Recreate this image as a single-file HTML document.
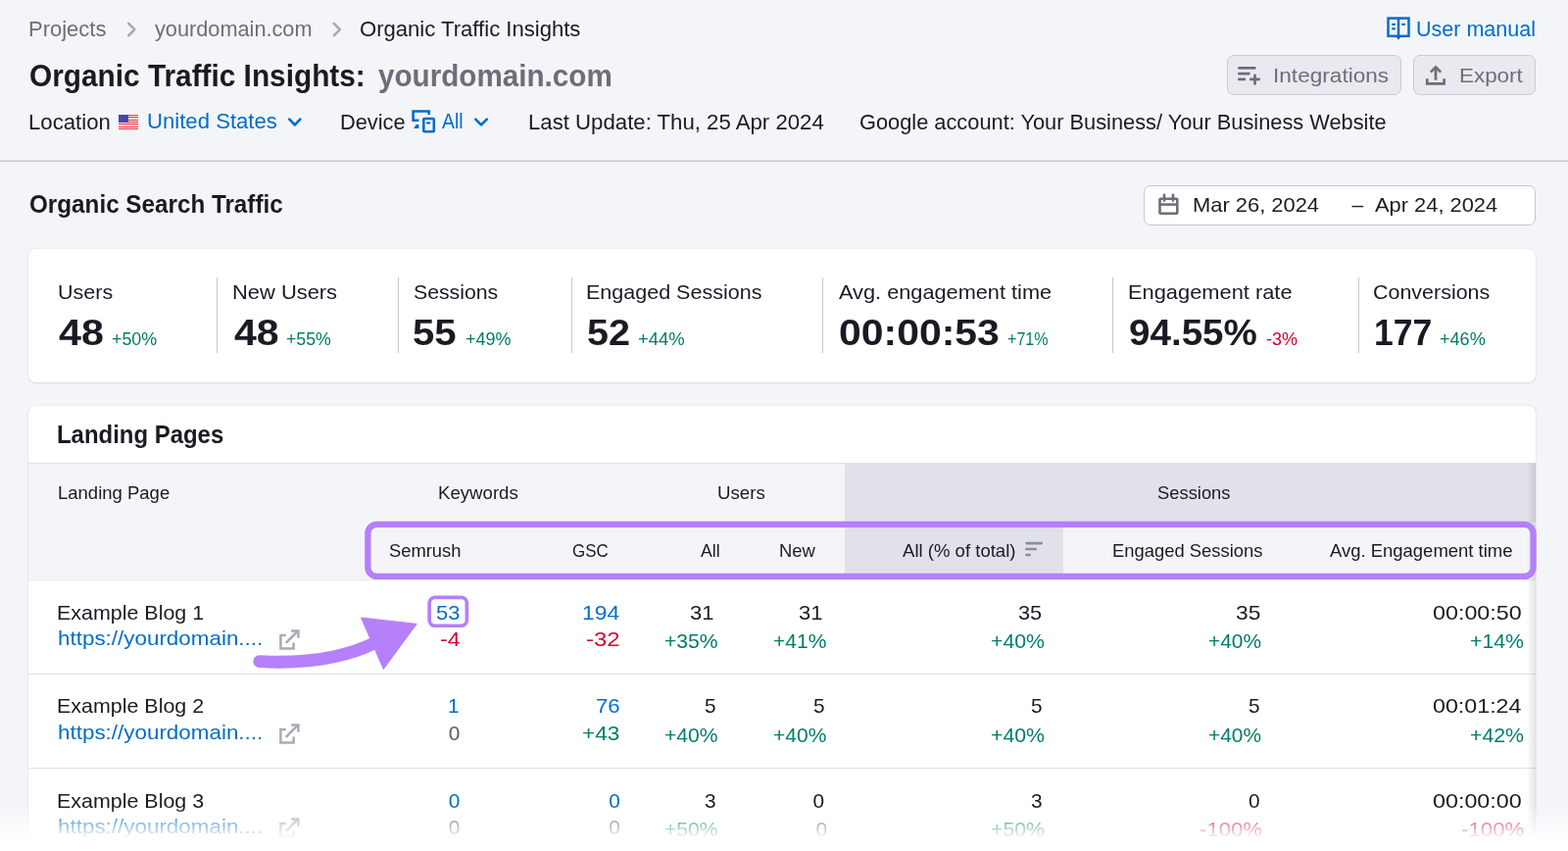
<!DOCTYPE html>
<html lang="en">
<head>
<meta charset="utf-8">
<title>Organic Traffic Insights: yourdomain.com</title>
<style>
html,body{margin:0;padding:0}
body{width:1600px;height:868px;overflow:hidden;position:relative;background:#f4f5f9;font-family:"Liberation Sans",sans-serif;color:#191b23}
.a{position:absolute}
.t{position:absolute;white-space:pre;line-height:1em;display:block;transform-origin:0 0}
.btn{position:absolute;box-sizing:border-box;background:#e9eaef;border:1px solid #c9cbd3;border-radius:7px}
.card{position:absolute;background:#fff;border-radius:7px;box-shadow:0 0 1px rgba(25,27,35,.24),0 1px 2px rgba(25,27,35,.10)}
.vd{position:absolute;width:1px;top:283px;height:77px;background:#c4c7cf}
.hl{position:absolute;left:29px;width:1538px;height:1px;background:#e0e1e9}
svg{position:absolute;overflow:visible}
</style>
</head>
<body>
<!-- header divider -->
<div class="a" style="left:0;top:163px;width:1600px;height:2px;background:linear-gradient(to bottom,rgba(194,196,204,.4) 0,rgba(194,196,204,.4) 1px,#c2c4cc 1px,#c2c4cc 2px)"></div>

<!-- buttons -->
<div class="btn" style="left:1252px;top:56px;width:178px;height:41px"></div>
<div class="btn" style="left:1442px;top:56px;width:125px;height:41px"></div>

<!-- date picker -->
<div class="a" style="left:1167px;top:189px;width:400px;height:41px;box-sizing:border-box;background:#fff;border:1px solid #c4c7cf;border-radius:7px"></div>

<!-- stats card -->
<div class="card" style="left:29px;top:254px;width:1538px;height:136px"></div>
<div class="vd" style="left:221px"></div>
<div class="vd" style="left:406px"></div>
<div class="vd" style="left:583px"></div>
<div class="vd" style="left:839px"></div>
<div class="vd" style="left:1135px"></div>
<div class="vd" style="left:1386px"></div>

<!-- landing pages card -->
<div class="card" style="left:29px;top:414px;width:1538px;height:500px"></div>
<div class="a" style="left:29px;top:472px;width:1538px;height:120px;background:#f4f5f9"></div>
<div class="a" style="left:862px;top:472px;width:705px;height:61px;background:#e0e1e9"></div>
<div class="a" style="left:862px;top:533px;width:223px;height:59px;background:#e0e1e9"></div>
<div class="hl" style="top:472px"></div>
<div class="hl" style="top:591px;background:#e9eaef"></div>
<div class="hl" style="top:687px"></div>
<div class="hl" style="top:783px"></div>
<!-- right scroll shadow -->
<div class="a" style="left:1558px;top:472px;width:9px;height:400px;background:linear-gradient(to right,rgba(25,27,35,0),rgba(25,27,35,.12))"></div>

<!-- purple highlights -->
<svg style="left:360px;top:520px" width="1240" height="130" viewBox="360 520 1240 130" fill="none" stroke="#b580fa">
  <rect x="375.35" y="534.85" width="1189.2" height="53" rx="9.2" stroke-width="6.3"/>
  <rect x="438.15" y="609.35" width="38.2" height="28.9" rx="5.7" stroke-width="3.7"/>
</svg>

<!-- breadcrumb chevrons -->
<svg style="left:0;top:0" width="1600" height="160" viewBox="0 0 1600 160" fill="none" stroke-linecap="round" stroke-linejoin="round">
  <path d="M131.2 24 L137.4 30.1 L131.2 36.2" stroke="#a9abb6" stroke-width="2.6"/>
  <path d="M340.7 24 L346.9 30.1 L340.7 36.2" stroke="#a9abb6" stroke-width="2.6"/>
  <!-- dropdown chevrons -->
  <path d="M295.3 121.6 L300.8 127.4 L306.3 121.6" stroke="#006dca" stroke-width="2.7"/>
  <path d="M485.3 121.6 L491 127.4 L496.8 121.6" stroke="#006dca" stroke-width="2.7"/>
  <!-- device icon -->
  <g stroke="#006dca" stroke-width="2.6" stroke-linejoin="miter" stroke-linecap="butt">
    <path d="M437.7 117 V113.5 H421.6 V122.8 H427.4"/>
    <rect x="432.3" y="121" width="10.5" height="13.3" rx="0.8"/>
    <path d="M435 125.4 H439.2" stroke-width="2.1"/>
  </g>
  <path d="M422.2 131 L424.6 126.9 H427.4 V131 Z" fill="#006dca"/>
  <!-- user manual book -->
  <g stroke="#006dca" stroke-width="2.5" stroke-linejoin="miter" stroke-linecap="butt">
    <rect x="1416.5" y="18.6" width="21" height="18.2"/>
    <path d="M1427 18.6 V38.5"/>
    <path d="M1421.1 24.8 H1423 M1421.1 29.3 H1423 M1431.1 24.8 H1433" stroke-width="2.2" stroke-linecap="round"/>
  </g>
  <path d="M1424.6 37.6 H1429.4 L1427 40.8 Z" fill="#006dca"/>
  <!-- integrations icon -->
  <g stroke="#6c6e79" stroke-width="2.7">
    <path d="M1264.3 69.3 H1280.4 M1264.3 75.1 H1274.5 M1264.3 80.9 H1269.9 M1276.3 80.9 H1284.7 M1280.5 76.8 V85.4"/>
  </g>
  <!-- export icon -->
  <g stroke="#6c6e79" stroke-width="2.7" stroke-linecap="butt" stroke-linejoin="miter">
    <path d="M1456.3 80.2 V85.4 H1473.6 V80.2"/>
    <path d="M1465 81.7 V69"/>
    <path d="M1459.8 73.6 L1465 68.4 L1470.2 73.6"/>
  </g>
</svg>
<!-- flag -->
<div class="a" style="left:121px;top:117px;width:20px;height:15px;background:repeating-linear-gradient(to bottom,#e8414a 0,#e8414a 1.15px,#ffd9d9 1.15px,#ffd9d9 2.3px)"></div>
<div class="a" style="left:121px;top:117px;width:10px;height:8px;background:#4547b0"></div>
<!-- calendar -->
<svg style="left:1175px;top:190px" width="40" height="40" viewBox="1175 190 40 40" fill="none" stroke="#6c6e79" stroke-width="2.6" stroke-linecap="round">
  <rect x="1183.5" y="202.8" width="17.8" height="14.9" rx="0.8"/>
  <path d="M1183.5 208.6 H1201.3" stroke-linecap="butt"/>
  <path d="M1188 198.8 V204.6 M1197 198.8 V204.6"/>
</svg>
<!-- sort icon -->
<svg style="left:1040px;top:545px" width="30" height="30" viewBox="1040 545 30 30" fill="none" stroke="#8a8e9b" stroke-width="2.6" stroke-linecap="round">
  <path d="M1047.5 554.1 H1062.7 M1047.5 560 H1056.7 M1047.5 566 H1050.7"/>
</svg>
<!-- external link icons -->
<svg style="left:280px;top:636px" width="30" height="230" viewBox="280 636 30 230" fill="none" stroke="#a9abb6" stroke-width="2.5" stroke-linecap="butt" stroke-linejoin="miter">
  <g>
    <path d="M291.8 648 H286.4 V661.4 H299.6 V655.5"/>
    <path d="M291.7 655.8 L304 643.5"/>
    <path d="M297.1 643.4 H304.4 V650.7"/>
  </g>
  <g transform="translate(0 96)">
    <path d="M291.8 648 H286.4 V661.4 H299.6 V655.5"/>
    <path d="M291.7 655.8 L304 643.5"/>
    <path d="M297.1 643.4 H304.4 V650.7"/>
  </g>
  <g transform="translate(0 192)">
    <path d="M291.8 648 H286.4 V661.4 H299.6 V655.5"/>
    <path d="M291.7 655.8 L304 643.5"/>
    <path d="M297.1 643.4 H304.4 V650.7"/>
  </g>
</svg>
<!-- purple arrow -->
<svg style="left:250px;top:620px" width="190" height="70" viewBox="250 620 190 70">
  <path d="M264.7 674.6 C 305 677, 346 674, 384 655" fill="none" stroke="#b580fa" stroke-width="12.8" stroke-linecap="round"/>
  <path d="M368.5 630 L425.2 636.4 L391.3 682.5 Z" fill="#b580fa" stroke="#b580fa" stroke-width="1" stroke-linejoin="round"/>
</svg>


<span class="t" style="left:28.71px;top:19.37px;font-size:22px;color:#6c6e79;transform:scaleX(0.9988);">Projects</span>
<span class="t" style="left:158.20px;top:19.37px;font-size:22px;color:#6c6e79;transform:scaleX(0.9870);">yourdomain.com</span>
<span class="t" style="left:366.68px;top:19.37px;font-size:22px;color:#191b23;transform:scaleX(1.0037);">Organic Traffic Insights</span>
<span class="t" style="left:1444.83px;top:19.37px;font-size:22px;color:#006dca;transform:scaleX(0.9784);">User manual</span>
<span class="t" style="left:30.05px;top:62.16px;font-size:31.7px;color:#191b23;transform:scaleX(0.9405);font-weight:700;">Organic Traffic Insights:</span>
<span class="t" style="left:385.62px;top:62.16px;font-size:31.7px;color:#6c6e79;transform:scaleX(0.9352);font-weight:700;">yourdomain.com</span>
<span class="t" style="left:1298.60px;top:66.22px;font-size:21px;color:#6c6e79;transform:scaleX(1.0765);">Integrations</span>
<span class="t" style="left:1488.84px;top:66.22px;font-size:21px;color:#6c6e79;transform:scaleX(1.0667);">Export</span>
<span class="t" style="left:28.66px;top:114.97px;font-size:21.3px;color:#191b23;transform:scaleX(1.0411);">Location</span>
<span class="t" style="left:149.61px;top:113.97px;font-size:21.3px;color:#006dca;transform:scaleX(1.0393);">United States</span>
<span class="t" style="left:346.67px;top:114.97px;font-size:21.3px;color:#191b23;transform:scaleX(1.0225);">Device</span>
<span class="t" style="left:451.41px;top:113.97px;font-size:21.3px;color:#006dca;transform:scaleX(0.9131);">All</span>
<span class="t" style="left:538.67px;top:114.97px;font-size:21.3px;color:#191b23;transform:scaleX(1.0417);">Last Update: Thu, 25 Apr 2024</span>
<span class="t" style="left:877.47px;top:114.97px;font-size:21.3px;color:#191b23;transform:scaleX(1.0235);">Google account: Your Business/ Your Business Website</span>
<span class="t" style="left:29.53px;top:195.83px;font-size:25px;color:#191b23;transform:scaleX(0.9698);font-weight:700;">Organic Search Traffic</span>
<span class="t" style="left:1216.66px;top:198.22px;font-size:21px;color:#191b23;transform:scaleX(1.0427);">Mar 26, 2024</span>
<span class="t" style="left:1379.38px;top:198.22px;font-size:21px;color:#191b23;">–</span>
<span class="t" style="left:1403.11px;top:198.22px;font-size:21px;color:#191b23;transform:scaleX(1.0410);">Apr 24, 2024</span>
<span class="t" style="left:59.19px;top:287.22px;font-size:21px;color:#191b23;transform:scaleX(1.0234);">Users</span>
<span class="t" style="left:60.38px;top:322.10px;font-size:36.5px;color:#191b23;transform:scaleX(1.1298);font-weight:700;">48</span>
<span class="t" style="left:113.70px;top:336.76px;font-size:18px;color:#007c65;transform:scaleX(0.9924);">+50%</span>
<span class="t" style="left:236.66px;top:287.22px;font-size:21px;color:#191b23;transform:scaleX(1.0427);">New Users</span>
<span class="t" style="left:238.98px;top:322.10px;font-size:36.5px;color:#191b23;transform:scaleX(1.1265);font-weight:700;">48</span>
<span class="t" style="left:291.50px;top:336.76px;font-size:18px;color:#007c65;transform:scaleX(0.9853);">+55%</span>
<span class="t" style="left:421.56px;top:287.22px;font-size:21px;color:#191b23;transform:scaleX(1.0120);">Sessions</span>
<span class="t" style="left:421.15px;top:322.10px;font-size:36.5px;color:#191b23;transform:scaleX(1.1015);font-weight:700;">55</span>
<span class="t" style="left:474.70px;top:336.76px;font-size:18px;color:#007c65;transform:scaleX(0.9987);">+49%</span>
<span class="t" style="left:597.67px;top:287.22px;font-size:21px;color:#191b23;transform:scaleX(1.0245);">Engaged Sessions</span>
<span class="t" style="left:599.16px;top:322.10px;font-size:36.5px;color:#191b23;transform:scaleX(1.0842);font-weight:700;">52</span>
<span class="t" style="left:650.70px;top:336.76px;font-size:18px;color:#007c65;transform:scaleX(1.0222);">+44%</span>
<span class="t" style="left:856.11px;top:287.22px;font-size:21px;color:#191b23;transform:scaleX(1.0351);">Avg. engagement time</span>
<span class="t" style="left:855.78px;top:322.10px;font-size:36.5px;color:#191b23;transform:scaleX(1.1215);font-weight:700;">00:00:53</span>
<span class="t" style="left:1027.70px;top:336.76px;font-size:18px;color:#007c65;transform:scaleX(0.8931);">+71%</span>
<span class="t" style="left:1150.66px;top:287.22px;font-size:21px;color:#191b23;transform:scaleX(1.0400);">Engagement rate</span>
<span class="t" style="left:1151.68px;top:322.10px;font-size:36.5px;color:#191b23;transform:scaleX(1.0574);font-weight:700;">94.55%</span>
<span class="t" style="left:1291.70px;top:336.76px;font-size:18px;color:#d1002f;transform:scaleX(1.0008);">-3%</span>
<span class="t" style="left:1401.46px;top:287.22px;font-size:21px;color:#191b23;transform:scaleX(1.0219);">Conversions</span>
<span class="t" style="left:1402.19px;top:322.10px;font-size:36.5px;color:#191b23;transform:scaleX(0.9739);font-weight:700;">177</span>
<span class="t" style="left:1468.70px;top:336.76px;font-size:18px;color:#007c65;transform:scaleX(1.0045);">+46%</span>
<span class="t" style="left:58.09px;top:430.58px;font-size:25.3px;color:#191b23;transform:scaleX(0.9459);font-weight:700;">Landing Pages</span>
<span class="t" style="left:59.09px;top:492.91px;font-size:19px;color:#191b23;transform:scaleX(0.9738);">Landing Page</span>
<span class="t" style="left:447.24px;top:492.91px;font-size:19px;color:#191b23;transform:scaleX(0.9799);">Keywords</span>
<span class="t" style="left:732.10px;top:492.91px;font-size:19px;color:#191b23;transform:scaleX(0.9827);">Users</span>
<span class="t" style="left:1180.70px;top:492.91px;font-size:19px;color:#191b23;transform:scaleX(0.9662);">Sessions</span>
<span class="t" style="left:396.50px;top:551.91px;font-size:19px;color:#191b23;transform:scaleX(0.9664);">Semrush</span>
<span class="t" style="left:584.30px;top:551.91px;font-size:19px;color:#191b23;transform:scaleX(0.8928);">GSC</span>
<span class="t" style="left:715.05px;top:551.91px;font-size:19px;color:#191b23;transform:scaleX(0.9305);">All</span>
<span class="t" style="left:794.68px;top:551.91px;font-size:19px;color:#191b23;transform:scaleX(0.9693);">New</span>
<span class="t" style="left:921.00px;top:551.91px;font-size:19px;color:#191b23;transform:scaleX(0.9766);">All (% of total)</span>
<span class="t" style="left:1135.32px;top:551.91px;font-size:19px;color:#191b23;transform:scaleX(0.9685);">Engaged Sessions</span>
<span class="t" style="left:1357.42px;top:551.91px;font-size:19px;color:#191b23;transform:scaleX(0.9716);">Avg. Engagement time</span>
<span class="t" style="left:57.87px;top:615.39px;font-size:20.8px;color:#191b23;transform:scaleX(1.0306);">Example Blog 1</span>
<span class="t" style="left:58.89px;top:641.39px;font-size:20.8px;color:#006dca;transform:scaleX(1.0776);">https://yourdomain....</span>
<span class="t" style="left:444.62px;top:615.39px;font-size:20.8px;color:#006dca;transform:scaleX(1.0520);">53</span>
<span class="t" style="left:448.50px;top:642.39px;font-size:20.8px;color:#d1002f;transform:scaleX(1.1027);">-4</span>
<span class="t" style="left:594.16px;top:615.39px;font-size:20.8px;color:#006dca;transform:scaleX(1.1000);">194</span>
<span class="t" style="left:597.90px;top:642.39px;font-size:20.8px;color:#d1002f;transform:scaleX(1.1515);">-32</span>
<span class="t" style="left:704.37px;top:615.39px;font-size:20.8px;color:#191b23;transform:scaleX(1.0594);">31</span>
<span class="t" style="left:678.26px;top:644.39px;font-size:20.8px;color:#007c65;transform:scaleX(1.0156);">+35%</span>
<span class="t" style="left:815.37px;top:615.39px;font-size:20.8px;color:#191b23;transform:scaleX(1.0594);">31</span>
<span class="t" style="left:789.47px;top:644.39px;font-size:20.8px;color:#007c65;transform:scaleX(1.0103);">+41%</span>
<span class="t" style="left:1038.80px;top:615.39px;font-size:20.8px;color:#191b23;transform:scaleX(1.0467);">35</span>
<span class="t" style="left:1010.66px;top:644.39px;font-size:20.8px;color:#007c65;transform:scaleX(1.0232);">+40%</span>
<span class="t" style="left:1260.53px;top:615.39px;font-size:20.8px;color:#191b23;transform:scaleX(1.0988);">35</span>
<span class="t" style="left:1233.47px;top:644.39px;font-size:20.8px;color:#007c65;transform:scaleX(1.0040);">+40%</span>
<span class="t" style="left:1461.50px;top:615.39px;font-size:20.8px;color:#191b23;transform:scaleX(1.1207);">00:00:50</span>
<span class="t" style="left:1499.66px;top:644.39px;font-size:20.8px;color:#007c65;transform:scaleX(1.0232);">+14%</span>
<span class="t" style="left:57.87px;top:710.39px;font-size:20.8px;color:#191b23;transform:scaleX(1.0306);">Example Blog 2</span>
<span class="t" style="left:58.89px;top:737.39px;font-size:20.8px;color:#006dca;transform:scaleX(1.0776);">https://yourdomain....</span>
<span class="t" style="left:457.07px;top:710.39px;font-size:20.8px;color:#006dca;">1</span>
<span class="t" style="left:457.68px;top:738.39px;font-size:20.8px;color:#5a5c66;">0</span>
<span class="t" style="left:607.91px;top:710.39px;font-size:20.8px;color:#006dca;transform:scaleX(1.0683);">76</span>
<span class="t" style="left:594.06px;top:738.39px;font-size:20.8px;color:#007c65;transform:scaleX(1.0847);">+43</span>
<span class="t" style="left:718.98px;top:710.39px;font-size:20.8px;color:#191b23;">5</span>
<span class="t" style="left:678.26px;top:740.39px;font-size:20.8px;color:#007c65;transform:scaleX(1.0156);">+40%</span>
<span class="t" style="left:829.98px;top:710.39px;font-size:20.8px;color:#191b23;">5</span>
<span class="t" style="left:789.47px;top:740.39px;font-size:20.8px;color:#007c65;transform:scaleX(1.0103);">+40%</span>
<span class="t" style="left:1051.98px;top:710.39px;font-size:20.8px;color:#191b23;">5</span>
<span class="t" style="left:1010.66px;top:740.39px;font-size:20.8px;color:#007c65;transform:scaleX(1.0232);">+40%</span>
<span class="t" style="left:1274.09px;top:710.39px;font-size:20.8px;color:#191b23;">5</span>
<span class="t" style="left:1233.47px;top:740.39px;font-size:20.8px;color:#007c65;transform:scaleX(1.0040);">+40%</span>
<span class="t" style="left:1461.50px;top:710.39px;font-size:20.8px;color:#191b23;transform:scaleX(1.1169);">00:01:24</span>
<span class="t" style="left:1499.66px;top:740.39px;font-size:20.8px;color:#007c65;transform:scaleX(1.0232);">+42%</span>
<span class="t" style="left:57.87px;top:807.39px;font-size:20.8px;color:#191b23;transform:scaleX(1.0306);">Example Blog 3</span>
<span class="t" style="left:58.89px;top:833.39px;font-size:20.8px;color:#006dca;transform:scaleX(1.0776);">https://yourdomain....</span>
<span class="t" style="left:457.68px;top:807.39px;font-size:20.8px;color:#006dca;">0</span>
<span class="t" style="left:457.68px;top:834.39px;font-size:20.8px;color:#5a5c66;">0</span>
<span class="t" style="left:621.13px;top:807.39px;font-size:20.8px;color:#006dca;">0</span>
<span class="t" style="left:621.13px;top:834.39px;font-size:20.8px;color:#5a5c66;">0</span>
<span class="t" style="left:718.97px;top:807.39px;font-size:20.8px;color:#191b23;">3</span>
<span class="t" style="left:678.26px;top:836.39px;font-size:20.8px;color:#007c65;transform:scaleX(1.0156);">+50%</span>
<span class="t" style="left:829.55px;top:807.39px;font-size:20.8px;color:#191b23;">0</span>
<span class="t" style="left:832.41px;top:836.39px;font-size:20.8px;color:#5a5c66;">0</span>
<span class="t" style="left:1051.97px;top:807.39px;font-size:20.8px;color:#191b23;">3</span>
<span class="t" style="left:1010.66px;top:836.39px;font-size:20.8px;color:#007c65;transform:scaleX(1.0232);">+50%</span>
<span class="t" style="left:1273.88px;top:807.39px;font-size:20.8px;color:#191b23;">0</span>
<span class="t" style="left:1223.70px;top:836.39px;font-size:20.8px;color:#d1002f;transform:scaleX(1.0650);">-100%</span>
<span class="t" style="left:1461.50px;top:807.39px;font-size:20.8px;color:#191b23;transform:scaleX(1.1207);">00:00:00</span>
<span class="t" style="left:1490.70px;top:836.39px;font-size:20.8px;color:#d1002f;transform:scaleX(1.0690);">-100%</span>

<!-- bottom fade -->
<div class="a" style="left:0;top:822px;width:1600px;height:46px;background:linear-gradient(to bottom,rgba(255,255,255,0) 0,rgba(255,255,255,1) 34px,#fff 46px)"></div>
</body>
</html>
